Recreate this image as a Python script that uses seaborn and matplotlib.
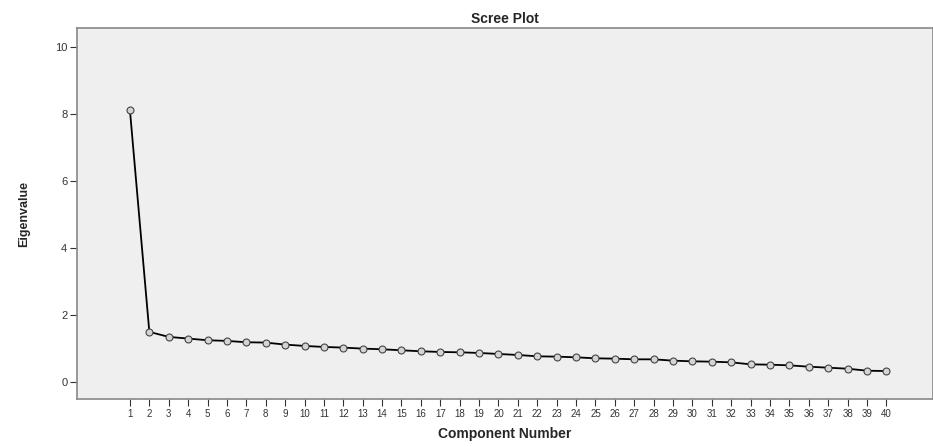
import matplotlib
matplotlib.use("Agg")
import matplotlib.pyplot as plt
import seaborn as sns
import pandas as pd

components = list(range(1, 41))
eigenvalues = [8.12, 1.50, 1.35, 1.30, 1.25, 1.23, 1.19, 1.18, 1.12, 1.08,
               1.05, 1.03, 1.00, 0.98, 0.95, 0.92, 0.90, 0.89, 0.87, 0.84,
               0.81, 0.77, 0.76, 0.74, 0.71, 0.70, 0.68, 0.68, 0.64, 0.62,
               0.61, 0.59, 0.53, 0.52, 0.50, 0.46, 0.43, 0.40, 0.34, 0.33]
y_ticks = [0, 2, 4, 6, 8, 10]

df = pd.DataFrame({"Component Number": components, "Eigenvalue": eigenvalues})

sns.set_style("white")
plt.rcParams['font.family'] = ['Liberation Sans', 'DejaVu Sans']

fig = plt.figure(figsize=(9.33, 4.47), dpi=100)
ax = fig.add_axes([0.0825, 0.107, 0.9175, 0.83])
ax.set_facecolor('#efefef')

sns.lineplot(data=df, x="Component Number", y="Eigenvalue", ax=ax,
             color='black', linewidth=1.3, marker='o', markersize=5,
             markerfacecolor='#d4d4d4', markeredgecolor='#444444',
             markeredgewidth=0.8)

ax.set_xlim(-1.73, 42.4)
ax.set_ylim(-0.51, 10.57)
ax.set_xticks(components)
ax.set_xticklabels([str(c) for c in components], fontsize=7, color='#333333')
ax.set_yticks(y_ticks)
ax.set_yticklabels([str(t) for t in y_ticks], fontsize=8, color='#333333')
ax.tick_params(axis='both', bottom=True, left=True, direction='out',
               length=5, width=0.8, color='#333333', pad=2)

for s in ax.spines.values():
    s.set_color('#888888')
    s.set_linewidth(1.2)

ax.set_title("Scree Plot", fontsize=10, fontweight='bold', pad=4)
ax.set_xlabel("Component Number", fontsize=10, fontweight='bold', labelpad=6)
ax.set_ylabel("Eigenvalue", fontsize=9, fontweight='bold', labelpad=18)

fig.savefig("out.png", dpi=100)
